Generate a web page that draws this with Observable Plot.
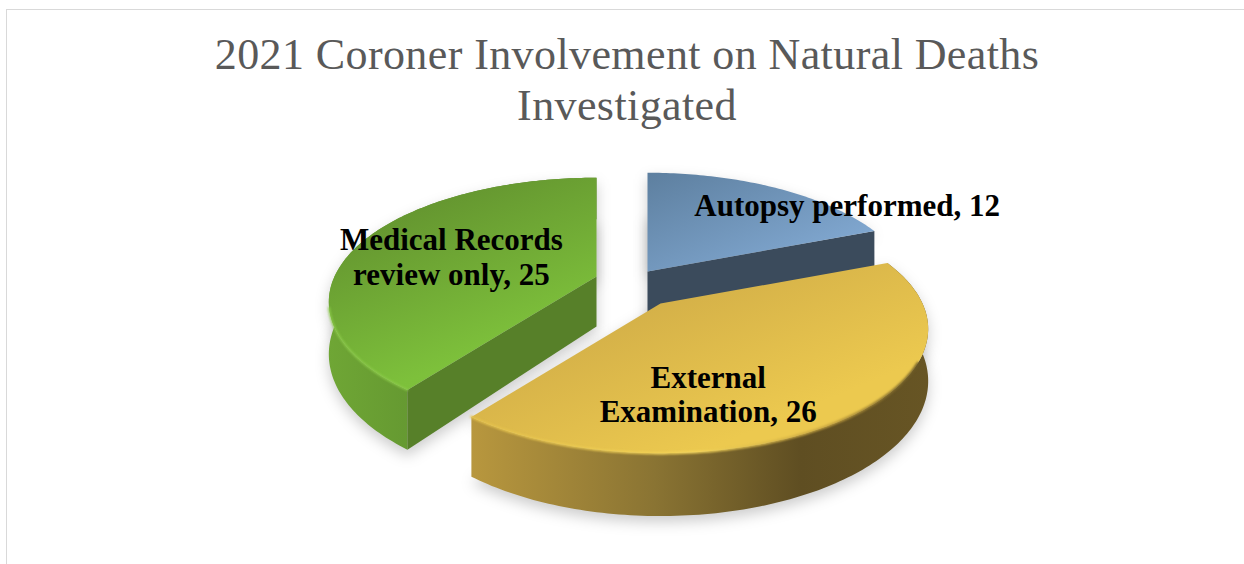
<!DOCTYPE html>
<html>
<head>
<meta charset="utf-8">
<script src="https://cdn.jsdelivr.net/npm/d3@7"></script>
<script src="https://cdn.jsdelivr.net/npm/@observablehq/plot@0.6"></script>
<style>
html,body{margin:0;padding:0;background:#fff;overflow:hidden;}
#frame{position:absolute;left:6px;top:9px;width:1300px;height:600px;border-left:1.5px solid #d9d9d9;border-top:1.5px solid #d9d9d9;}
#page{position:absolute;left:0;top:0;width:1244px;height:564px;}
#title{height:130px;width:1244px;box-sizing:border-box;padding:29px 0 0 10px;text-align:center;font-family:"Liberation Serif",serif;font-size:44px;line-height:51px;color:#595959;letter-spacing:0.4px;}
svg{display:block;}
</style>
</head>
<body>
<div id="frame"></div>
<div id="page">
<div id="title">2021 Coroner Involvement on Natural Deaths<br>Investigated</div>
<div id="chart"></div>
</div>
<script>
// Data
const categories = ["Autopsy performed", "External\nExamination", "Medical Records\nreview only"];
const values = [12, 26, 25];

// Pie view settings
const ry = 119, rx = 262, persp = 0.205, thickness = 0.42;
const apexX = 647, apexY = 141;
const explodePx = [[0, 0], [13, 32], [-51, 5]];
const labelAngleDeg = [53.6, 166.5, 287];
const labelRadius = [1.07, 0.675, 0.6];

const arcs = d3.pie().sort(null)(values);

function project(theta, r, h, off) {
  const u = r * Math.sin(theta), v = -r * Math.cos(theta), den = 1 - persp * v;
  return {x: u / den + off[0] / rx, y: (v + h) / den + off[1] / ry};
}
function arcPts(s, h, off) {
  const n = Math.ceil((s.endAngle - s.startAngle) * 180 / Math.PI);
  return d3.range(n + 1).map(i => project(s.startAngle + (s.endAngle - s.startAngle) * i / n, 1, h, off));
}
const topFace = (s, off) => [project(0, 0, 0, off), ...arcPts(s, 0, off)];
const outerWall = (s, off) => [...arcPts(s, 0, off), ...arcPts(s, thickness, off).reverse()];
const cutFace = (theta, off) => [project(0, 0, 0, off), project(theta, 1, 0, off), project(theta, 1, thickness, off), project(0, 0, thickness, off)];
const bottomFace = (s, off) => [project(0, 0, thickness, off), ...arcPts(s, thickness, off)];

const poly = (d, fill, extra = {}) => Plot.line(d, {x: "x", y: "y", curve: "linear-closed", fill, stroke: "none", ...extra});

const shadow = {fillOpacity: 0.2, imageFilter: "blur(7px)"};
const shadowMarks = arcs.flatMap((s, i) => {
  const off = [explodePx[i][0], explodePx[i][1] + 6];
  return [poly(bottomFace(s, off), "#000", shadow), poly(topFace(s, off), "#000", shadow)];
});

const [blue, orange, green] = arcs;
const [offB, offO, offG] = explodePx;

const labelData = arcs.map((s, i) => {
  const p = project(labelAngleDeg[i] * Math.PI / 180, labelRadius[i], 0, explodePx[i]);
  return {x: p.x, y: p.y, text: `${categories[i]}, ${values[i]}`};
});

const chart = Plot.plot({
  width: 1244, height: 434,
  margin: 0,
  x: {domain: [-1, 1], range: [apexX - rx, apexX + rx], axis: null},
  y: {domain: [-1, 1], range: [apexY - ry, apexY + ry], axis: null},
  marks: [
    ...shadowMarks,
    // blue slice
    poly(cutFace(blue.endAngle, offB), "#3b4b5c"),
    poly(topFace(blue, offB), "url(#gBlue)"),
    // green slice
    poly(outerWall(green, offG), "url(#gGreenWall)"),
    poly(cutFace(green.startAngle, offG), "#578029"),
    poly(topFace(green, offG), "url(#gGreen)"),
    Plot.line(arcPts({startAngle: green.startAngle, endAngle: 1.42 * Math.PI}, 0, offG), {x: "x", y: "y", stroke: "#8ccb49", strokeWidth: 2, imageFilter: "blur(0.8px)"}),
    // orange slice
    poly(outerWall(orange, offO), "url(#gOrangeWall)"),
    poly(topFace(orange, offO), "url(#gOrange)"),
    Plot.line(arcPts({startAngle: 0.65 * Math.PI, endAngle: orange.endAngle}, 0, offO), {x: "x", y: "y", stroke: "url(#gOrangeRim)", strokeWidth: 2.5, imageFilter: "blur(0.8px)"}),
    // labels
    Plot.text(labelData, {x: "x", y: "y", text: "text", fontSize: 31, fontWeight: "bold", fontFamily: "Liberation Serif", fill: "#000", lineHeight: 1.12})
  ]
});

const defs = `
<defs>
<linearGradient id="gBlue" x1="0" y1="0" x2="1" y2="1"><stop offset="0" stop-color="#5d7f9f"/><stop offset="1" stop-color="#89b1dc"/></linearGradient>
<linearGradient id="gGreen" x1="0.2" y1="0" x2="0.7" y2="1"><stop offset="0" stop-color="#5f8c2d"/><stop offset="0.8" stop-color="#7dc03b"/><stop offset="1" stop-color="#80c43d"/></linearGradient>
<linearGradient id="gGreenWall" x1="0" y1="0" x2="1" y2="0"><stop offset="0" stop-color="#6fa635"/><stop offset="0.4" stop-color="#629530"/><stop offset="0.6" stop-color="#578029"/></linearGradient>
<linearGradient id="gOrange" x1="0" y1="0" x2="1" y2="1"><stop offset="0" stop-color="#c4a044"/><stop offset="0.75" stop-color="#ecc94f"/><stop offset="1" stop-color="#ecc94f"/></linearGradient>
<linearGradient id="gOrangeWall" x1="0" y1="0" x2="1" y2="0"><stop offset="0" stop-color="#b8973e"/><stop offset="0.4" stop-color="#8a7433"/><stop offset="0.72" stop-color="#5f4e22"/><stop offset="1" stop-color="#675524"/></linearGradient>
<linearGradient id="gOrangeRim" x1="0" y1="0" x2="1" y2="0"><stop offset="0" stop-color="#e3c04b"/><stop offset="0.5" stop-color="#f4d55a"/><stop offset="0.8" stop-color="#c2a03e"/><stop offset="1" stop-color="#6b5926"/></linearGradient>
</defs>`;
chart.insertAdjacentHTML("afterbegin", defs);
document.getElementById("chart").append(chart);
</script>
</body>
</html>
